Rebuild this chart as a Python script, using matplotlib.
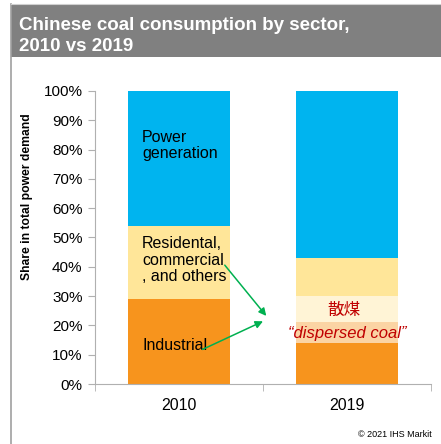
import matplotlib.pyplot as plt
from matplotlib.patches import Rectangle

years = ["2010", "2019"]
industrial = [29, 21]
residential = [25, 22]
power = [46, 57]
dispersed_band = (14, 30)  # overlay span on the 2019 bar, in %

BLUE = "#00B4EF"
YELLOW = "#FFE699"
ORANGE = "#F7941D"
GREEN = "#00B050"
RED = "#C00000"
GRID_GREY = "#B0B0B0"

plt.rcParams["font.family"] = ["Liberation Sans", "DejaVu Sans"]

W, H = 441, 444
fig = plt.figure(figsize=(W / 100, H / 100), dpi=100)

# title band and left border
fig.patches.append(Rectangle((11 / W, 1 - 57 / H), 1, 52 / H, transform=fig.transFigure,
                             facecolor="#808080", edgecolor="none", zorder=0))
fig.add_artist(plt.Line2D([11 / W, 11 / W], [0, 1 - 4 / H], transform=fig.transFigure,
                          color="#A0A0A0", lw=1.2))
fig.add_artist(plt.Line2D([11 / W, 1], [1 - 4 / H, 1 - 4 / H], transform=fig.transFigure,
                          color="#D0D0D0", lw=0.8))
fig.text(19 / W, 1 - 25 / H, "Chinese coal consumption by sector,", color="white",
         fontsize=13.5, fontweight="bold", va="center", ha="left")
fig.text(19 / W, 1 - 46 / H, "2010 vs 2019", color="white",
         fontsize=13.5, fontweight="bold", va="center", ha="left")

ax = fig.add_axes([95 / W, 1 - 384 / H, (431 - 95) / W, (384 - 91) / H])
x = list(range(len(years)))
width = 0.607
ax.bar(x, industrial, width, color=ORANGE, zorder=2)
ax.bar(x, residential, width, bottom=industrial, color=YELLOW, zorder=2)
ax.bar(x, power, width, bottom=[i + r for i, r in zip(industrial, residential)],
       color=BLUE, zorder=2)

# semi-transparent highlight on 2019 bar
ax.add_patch(Rectangle((1 - width / 2, dispersed_band[0]), width,
                       dispersed_band[1] - dispersed_band[0],
                       facecolor="white", alpha=0.6, edgecolor="none", zorder=3))

ax.set_xlim(-0.5, 1.5)
ax.set_ylim(0, 100)
ax.set_yticks(range(0, 101, 10))
ax.set_yticklabels([f"{v}%" for v in range(0, 101, 10)], fontsize=11)
ax.set_xticks(x)
ax.set_xticklabels(years, fontsize=11.5)
ax.set_xticks([-0.5, 0.5, 1.5], minor=True)
ax.tick_params(axis="x", which="major", length=0, pad=10)
ax.tick_params(axis="x", which="minor", length=5, color=GRID_GREY, direction="out")
ax.tick_params(axis="y", length=5, color=GRID_GREY, direction="out", pad=4)
for side in ("top", "right"):
    ax.spines[side].set_visible(False)
for side in ("left", "bottom"):
    ax.spines[side].set_color(GRID_GREY)

# in-bar labels
ax.text(-0.22, 81.4, "Power\ngeneration", fontsize=11.5, va="center", ha="left",
        linespacing=1.1, zorder=4)
ax.text(-0.22, 42.3, "Residental,\ncommercial\n, and others", fontsize=11.5,
        va="center", ha="left", linespacing=1.1, zorder=4)
ax.text(-0.22, 13.3, "Industrial", fontsize=11.5, va="center", ha="left", zorder=4)

# arrows
arrow = dict(arrowstyle="-|>", color=GREEN, lw=1.1, mutation_scale=11)
ax.annotate("", xy=(0.53, 22.5), xytext=(0.262, 41.3), arrowprops=arrow, zorder=5)
ax.annotate("", xy=(0.515, 21.8), xytext=(0.125, 11.4), arrowprops=arrow, zorder=5)

ax.text(0.98, 25.0, "散煤", color=RED, fontsize=12, ha="center", va="center",
        family=["Noto Sans CJK SC", "DejaVu Sans"], zorder=5)
ax.text(1.0, 17.2, "\u201cdispersed coal\u201d", color=RED, fontsize=12,
        style="italic", ha="center", va="center", zorder=5)

fig.text(27 / W, 1 - 197 / H, "Share in total power demand", rotation=90,
         fontsize=8.7, fontweight="bold", ha="center", va="center")
fig.text(432 / W, 1 - 434 / H, "\u00a9 2021 IHS Markit", fontsize=6.5,
         ha="right", va="center")

fig.savefig("out.png", dpi=100)
